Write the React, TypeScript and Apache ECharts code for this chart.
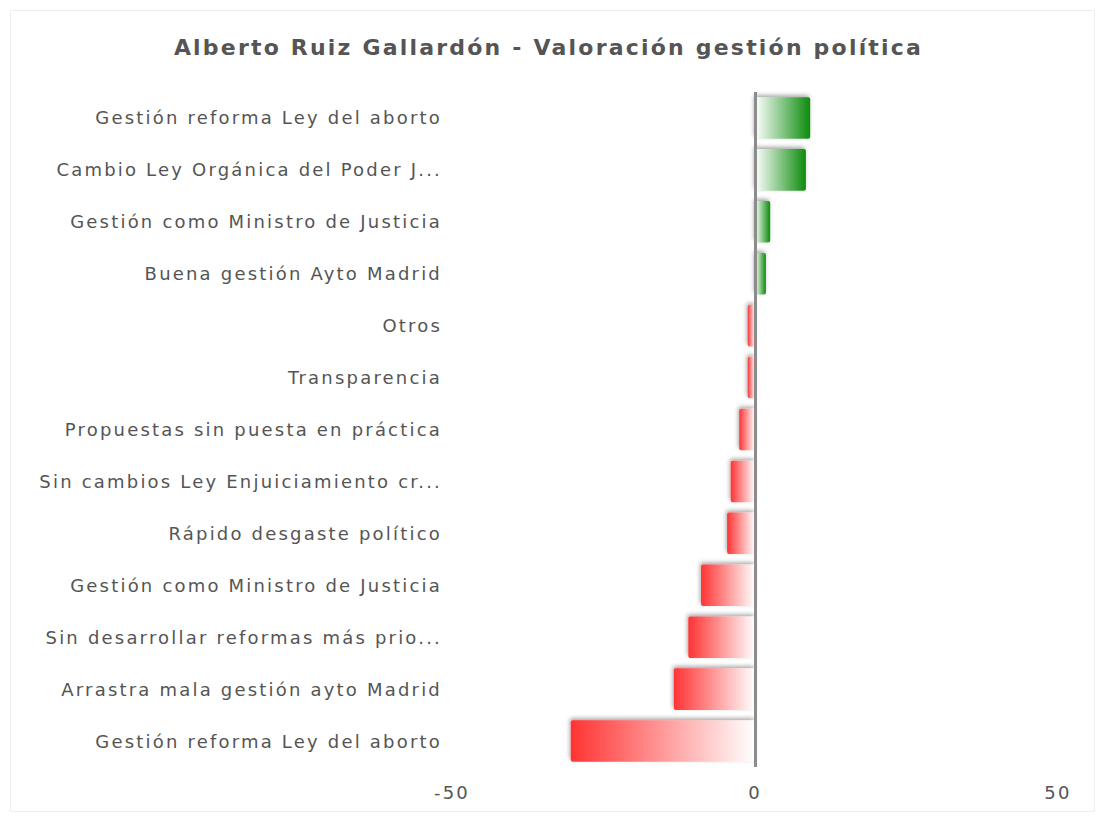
import React, { useEffect, useRef } from "react";
import * as echarts from "echarts";

const titleText = "Alberto Ruiz Gallardón - Valoración gestión política";

const categories = [
  "Gestión reforma Ley del aborto",
  "Cambio Ley Orgánica del Poder J...",
  "Gestión como Ministro de Justicia",
  "Buena gestión Ayto Madrid",
  "Otros",
  "Transparencia",
  "Propuestas sin puesta en práctica",
  "Sin cambios Ley Enjuiciamiento cr...",
  "Rápido desgaste político",
  "Gestión como Ministro de Justicia",
  "Sin desarrollar reformas más prio...",
  "Arrastra mala gestión ayto Madrid",
  "Gestión reforma Ley del aborto",
];

const values = [9.1, 8.4, 2.5, 1.8, -1.2, -1.2, -2.6, -4, -4.6, -8.9, -11, -13.4, -30.4];

const tickValues = [-50, 0, 50];

const GREEN = "#0b8c0b";
const RED = "#ff3333";

export default function App() {
  const ref = useRef<HTMLDivElement>(null);
  useEffect(() => {
    if (!ref.current) return;
    const chart = echarts.init(ref.current, null, { renderer: "svg" });
    const data = values.map((v) => ({
      value: v,
      itemStyle: {
        color:
          v >= 0
            ? new echarts.graphic.LinearGradient(0, 0, 1, 0, [
                { offset: 0, color: "#ffffff" },
                { offset: 1, color: GREEN },
              ])
            : new echarts.graphic.LinearGradient(0, 0, 1, 0, [
                { offset: 0, color: RED },
                { offset: 1, color: "#ffffff" },
              ]),
      },
    }));
    chart.setOption({
      animation: false,
      backgroundColor: "#ffffff",
      title: {
        text: titleText,
        left: "center",
        top: 31,
        textStyle: {
          fontFamily: "DejaVu Sans",
          fontWeight: "bold",
          fontSize: 22,
          color: "#555555",
        },
      },
      graphic: [
        {
          type: "rect",
          shape: { x: 10.5, y: 10.5, width: 1084, height: 801 },
          style: { fill: "none", stroke: "#eeeeee", lineWidth: 1 },
          silent: true,
        },
      ],
      grid: { left: 452, right: 39, top: 92, bottom: 52, containLabel: false },
      xAxis: {
        type: "value",
        min: -50,
        max: 50,
        interval: 50,
        splitLine: { show: false },
        axisLine: { show: false },
        axisTick: { show: false },
        axisLabel: {
          margin: 16,
          fontFamily: "DejaVu Sans",
          fontSize: 18,
          color: "#555555",
          formatter: (v: number) => (tickValues.includes(v) ? String(v) : ""),
        },
      },
      yAxis: {
        type: "category",
        inverse: true,
        data: categories,
        axisLine: { show: false, onZero: false },
        axisTick: { show: false },
        splitLine: { show: false },
        axisLabel: {
          margin: 10,
          fontFamily: "DejaVu Sans",
          fontSize: 18,
          color: "#555555",
        },
      },
      series: [
        {
          type: "bar",
          data,
          barWidth: "80%",
          itemStyle: {
            borderRadius: 2,
            shadowColor: "rgba(0,0,0,0.35)",
            shadowBlur: 4,
            shadowOffsetX: -1,
            shadowOffsetY: -2,
          },
          markLine: {
            silent: true,
            symbol: "none",
            label: { show: false },
            lineStyle: { color: "#8c8c8c", width: 3, type: "solid" },
            data: [{ xAxis: 0 }],
          },
        },
      ],
    });
    return () => chart.dispose();
  }, []);
  return (
    <>
      <style>{`#root svg text { letter-spacing: 2.2px; }`}</style>
      <div
        ref={ref}
        style={{ position: "absolute", left: 0, top: 0, width: 1097, height: 819 }}
      />
    </>
  );
}
